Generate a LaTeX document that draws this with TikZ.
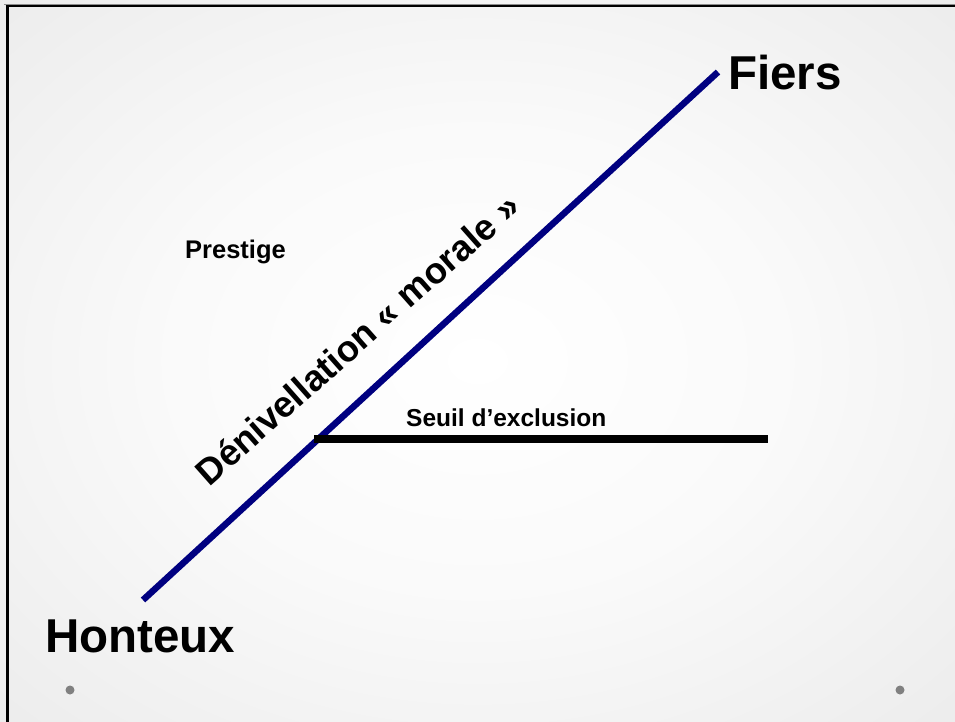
\documentclass[tikz,border=0pt]{standalone}
\usepackage{fontspec}
\setmainfont{Liberation Sans}
\pgfdeclareradialshading{slidebg}{\pgfpoint{0bp}{0bp}}{color(0bp)=(white); color(16bp)=(white!98!black); color(71bp)=(black!17)}
\definecolor{navyline}{RGB}{0,0,128}
\definecolor{dotgray}{RGB}{128,128,128}
\tikzset{
  lbl/.style={inner sep=0pt, anchor=base west, font=\bfseries},
  bigtxt/.style={lbl, font=\fontsize{47.5}{50}\selectfont\bfseries},
  smalltxt/.style={lbl, font=\fontsize{25.5}{28}\selectfont\bfseries},
  dot/.style={circle, fill=dotgray, inner sep=0pt, minimum size=9pt}
}
\begin{document}
\begin{tikzpicture}[x=1pt,y=-1pt]
\useasboundingbox (0,0) rectangle (955,722);
\shade[shading=slidebg] (0,0) rectangle (955,722);
% frame (top and left edges)
\draw[black!45, line width=1pt] (4,4.5) -- (955,4.5);
\draw[black, line width=2.5pt] (5.5,6) -- (955,6);
\draw[black, line width=3pt] (7,5) -- (7,722);
% lines
\coordinate (lowend) at (143,600);
\coordinate (highend) at (718,72);
\coordinate (seuilL) at (314,439);
\coordinate (seuilR) at (768,439);
\draw[navyline, line width=6.5pt] (lowend) -- (highend);
\draw[black, line width=8pt] (seuilL) -- (seuilR);
% labels
\node[bigtxt] (fiers) at (728,90) {Fiers};
\node[bigtxt] (honteux) at (45,652) {Honteux};
\node[smalltxt] (prestige) at (185,258) {Prestige};
\node[lbl, font=\fontsize{24.5}{28}\selectfont\bfseries] (seuil) at (406,426) {Seuil d’exclusion};
\node[inner sep=0pt, rotate=41.5, font=\fontsize{36.5}{40}\selectfont\bfseries] (deniv) at (357,339) {Dénivellation « morale »};
% dots
\node[dot] (dotL) at (70,690) {};
\node[dot] (dotR) at (900,690) {};
\end{tikzpicture}
\end{document}
